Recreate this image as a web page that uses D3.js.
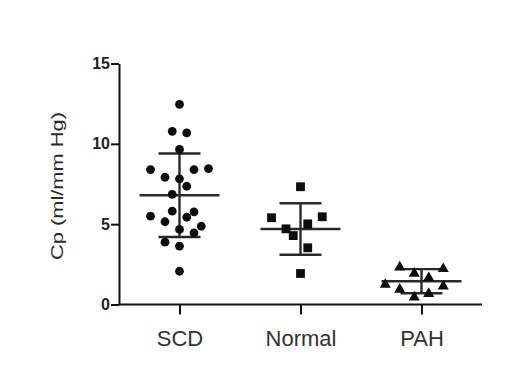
<!DOCTYPE html>
<html>
<head>
<meta charset="utf-8">
<script src="https://cdn.jsdelivr.net/npm/d3@7"></script>
<style>
  body { margin: 0; background: #fff; }
  svg { display: block; }
</style>
</head>
<body>
<div id="chart"></div>
<script>
// groups on the x axis
const groups = ["SCD", "Normal", "PAH"];

// individual values, with the side-by-side slot GraphPad used
const scdValues = [12.45, 10.78, 10.68, 9.65, 8.40, 8.40, 8.46, 7.92, 7.82, 7.36, 6.85,
                   5.81, 5.77, 5.50, 5.43, 5.15, 4.87, 4.67, 4.46, 3.88, 3.63, 2.07];
const scdSlots  = [0, -1, 1, 0, -4, 2, 4, -2, 0, 1, -1,
                   -1, 2, -4, 1, -2, 3, 0, 2, -2, 0, 0];

const normalValues = [7.33, 5.40, 5.46, 5.02, 4.71, 4.29, 3.53, 1.93];
const normalSlots  = [0, -4, 3, 1, -2, -1, 1, 0];

const pahValues = [2.32, 1.93, 2.22, 1.66, 1.24, 1.14, 0.93, 0.67, 0.45];
const pahSlots  = [-3, -1, 3, 1, -5, 3, -3, 1, -1];

// mean and SD bars
const means = [6.80, 4.70, 1.45];
const sds   = [2.60, 1.60, 0.75];

const yTicks = [0, 5, 10, 15];

const margin = {top: 63.5, left: 119, right: 38, bottom: 83.5};
const W = 520, H = 388;

const svg = d3.select("#chart").append("svg")
    .attr("width", W)
    .attr("height", H);

svg.append("rect").attr("width", W).attr("height", H).attr("fill", "#fff");

const x = d3.scalePoint()
    .domain(groups)
    .range([margin.left, W - margin.right])
    .padding(0.5);

const y = d3.scaleLinear()
    .domain([0, 15])
    .range([H - margin.bottom, margin.top]);

// jitter slot -> pixels
const slotStep = 7.25;

const series = [
  {name: "SCD", values: scdValues, slots: scdSlots, shape: "circle"},
  {name: "Normal", values: normalValues, slots: normalSlots, shape: "square"},
  {name: "PAH", values: pahValues, slots: pahSlots, shape: "triangle"}
];

// mean +/- SD
const bars = svg.append("g")
    .attr("stroke", "#2a2a2a")
    .attr("stroke-width", 2.4)
    .attr("fill", "none");

groups.forEach(function(g, i) {
  const cx = x(g);
  bars.append("line")
      .attr("x1", cx - 40).attr("x2", cx + 40)
      .attr("y1", y(means[i])).attr("y2", y(means[i]));
  bars.append("line")
      .attr("x1", cx).attr("x2", cx)
      .attr("y1", y(means[i] + sds[i])).attr("y2", y(means[i] - sds[i]));
  [means[i] + sds[i], means[i] - sds[i]].forEach(function(v) {
    bars.append("line")
        .attr("x1", cx - 21).attr("x2", cx + 21)
        .attr("y1", y(v)).attr("y2", y(v));
  });
});

// points
const symbols = {
  circle: d3.symbol().type(d3.symbolCircle).size(Math.PI * 4.4 * 4.4),
  square: d3.symbol().type(d3.symbolSquare).size(8.8 * 8.8),
  triangle: d3.symbol().type(d3.symbolTriangle).size(54)
};

series.forEach(function(s) {
  const pts = s.values.map((v, k) => ({v: v, slot: s.slots[k]}));
  svg.append("g")
    .selectAll("path")
    .data(pts)
    .enter().append("path")
      .attr("d", symbols[s.shape]())
      .attr("transform", d => "translate(" + (x(s.name) + d.slot * slotStep) + "," + y(d.v) + ")")
      .attr("fill", "#0d0d0d");
});

// y axis
const yAxis = svg.append("g")
    .attr("transform", "translate(" + margin.left + ",0)")
    .call(d3.axisLeft(y).tickValues(yTicks).tickSize(8).tickSizeOuter(0).tickPadding(1));
yAxis.select(".domain").attr("stroke", "#111").attr("stroke-width", 2);
yAxis.selectAll(".tick line").attr("stroke", "#111").attr("stroke-width", 2);
yAxis.selectAll(".tick text")
    .attr("fill", "#222")
    .style("font-family", "'Liberation Sans', Arial, sans-serif")
    .style("font-size", "16px")
    .style("font-weight", "bold");

// x axis
const xAxis = svg.append("g")
    .attr("transform", "translate(0," + y(0) + ")")
    .call(d3.axisBottom(x).tickSize(10).tickSizeOuter(0).tickPadding(16));
xAxis.select(".domain")
    .attr("d", "M" + margin.left + ",0H" + (W - margin.right))
    .attr("stroke", "#111").attr("stroke-width", 2);
xAxis.selectAll(".tick line").attr("stroke", "#111").attr("stroke-width", 2);
xAxis.selectAll(".tick text")
    .attr("fill", "#333")
    .style("font-family", "'Liberation Sans', Arial, sans-serif")
    .style("font-size", "22px");

// y axis title
svg.append("text")
    .attr("transform", "translate(63,186) rotate(-90)")
    .attr("text-anchor", "middle")
    .attr("fill", "#2a2a2a")
    .attr("textLength", 148)
    .attr("lengthAdjust", "spacingAndGlyphs")
    .style("font-family", "'Liberation Sans', Arial, sans-serif")
    .style("font-size", "17px")
    .text("Cp (ml/mm Hg)");
</script>
</body>
</html>
